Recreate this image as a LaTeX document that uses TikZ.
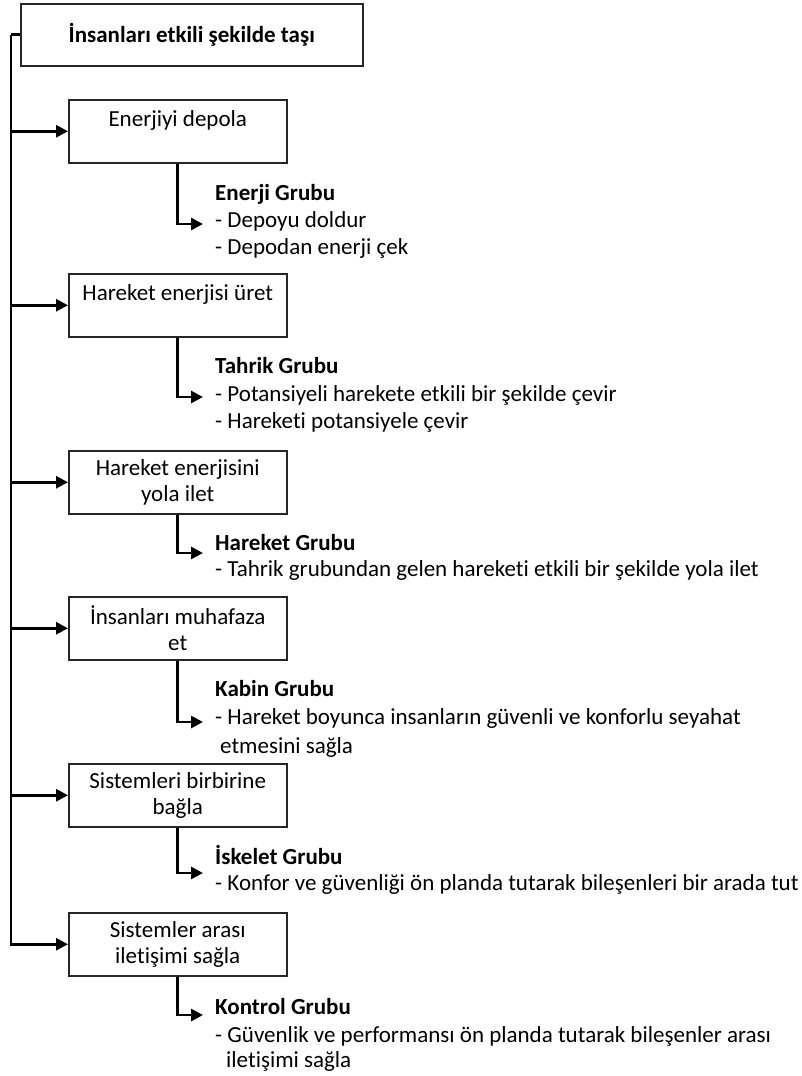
\documentclass[tikz,border=0pt]{standalone}
\usepackage{fontspec}
\setmainfont{Carlito}[Ligatures=NoCommon]
\usetikzlibrary{arrows.meta}
\begin{document}
\begin{tikzpicture}[x=1pt,y=-1pt,
  every node/.style={font=\fontsize{23}{26}\selectfont, text=black},
  boxnode/.style={draw=black!85, line width=1.5pt, minimum width=218pt, minimum height=63pt, anchor=north west, align=center, inner sep=0pt},
  titlebox/.style={draw=black!85, line width=1.5pt, minimum width=342pt, minimum height=62pt, anchor=north west, inner sep=0pt, font=\fontsize{23}{26}\selectfont\bfseries},
  conn/.style={line width=2.8pt, draw=black},
  arr/.style={conn, -{Triangle[length=12pt,width=12pt]}},
  grp/.style={anchor=base west, inner sep=0pt},
]
\useasboundingbox (0,0) rectangle (801,1076);

\node[titlebox] (title) at (20,3) {İnsanları etkili şekilde taşı};

\node[boxnode] (b1) at (68,99)  {Enerjiyi depola\\\mbox{}};
\node[boxnode] (b2) at (68,273) {Hareket enerjisi üret\\\mbox{}};
\node[boxnode] (b3) at (68,450) {Hareket enerjisini\\yola ilet};
\node[boxnode] (b4) at (68,596) {İnsanları muhafaza\\et};
\node[boxnode] (b5) at (68,763) {Sistemleri birbirine\\bağla};
\node[boxnode] (b6) at (68,912) {Sistemler arası\\iletişimi sağla};

% spine
\draw[conn] (title.west) -- ++(-9,0) coordinate (top);
\draw[arr] (top) |- (b6.west);
\foreach \b in {b1,b2,b3,b4,b5}{
  \draw[arr] (top |- \b.west) -- (\b.west);
}

% arrow end points
\coordinate (a1) at (203,224);
\coordinate (a2) at (203,397);
\coordinate (a3) at (203,553);
\coordinate (a4) at (203,722);
\coordinate (a5) at (203,873);
\coordinate (a6) at (203,1015);
\foreach \i in {1,...,6}{
  \draw[arr] (b\i.south) |- (a\i);
}

% groups
\node[grp] (g1t) at (215,200) {\textbf{Enerji Grubu}};
\node[grp] (g1a) at (215,227) {- Depoyu doldur};
\node[grp] (g1b) at (215,254) {- Depodan enerji çek};

\node[grp] (g2t) at (215,373) {\textbf{Tahrik Grubu}};
\node[grp] (g2a) at (215,401) {- Potansiyeli harekete etkili bir şekilde çevir};
\node[grp] (g2b) at (215,428) {- Hareketi potansiyele çevir};

\node[grp] (g3t) at (215,550) {\textbf{Hareket Grubu}};
\node[grp] (g3a) at (215,576) {- Tahrik grubundan gelen hareketi etkili bir şekilde yola ilet};

\node[grp] (g4t) at (215,696) {\textbf{Kabin Grubu}};
\node[grp] (g4a) at (215,724) {- Hareket boyunca insanların güvenli ve konforlu seyahat};
\node[grp] (g4b) at (220,753) {etmesini sağla};

\node[grp] (g5t) at (215,864) {\textbf{İskelet Grubu}};
\node[grp] (g5a) at (215,890) {- Konfor ve güvenliği ön planda tutarak bileşenleri bir arada tut};

\node[grp] (g6t) at (215,1014) {\textbf{Kontrol Grubu}};
\node[grp] (g6a) at (215,1042) {- Güvenlik ve performansı ön planda tutarak bileşenler arası};
\node[grp] (g6b) at (226,1067) {iletişimi sağla};
\end{tikzpicture}
\end{document}
